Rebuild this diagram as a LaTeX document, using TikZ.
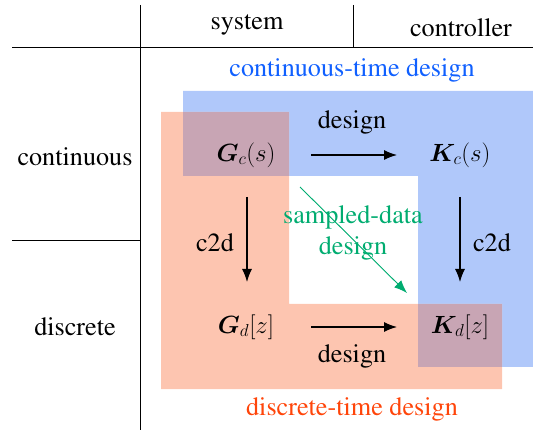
\documentclass[tikz,border=0pt]{standalone}
\usepackage{amsmath,bm}
\usepackage[T1]{fontenc}
\usepackage{times}
\usetikzlibrary{arrows.meta}
\definecolor{bluereg}{RGB}{176,200,250}
\definecolor{orangereg}{RGB}{253,197,176}
\definecolor{overlap}{RGB}{200,165,180}
\definecolor{bluetxt}{RGB}{16,96,255}
\definecolor{orangetxt}{RGB}{255,69,10}
\definecolor{greentxt}{RGB}{0,172,112}
\tikzset{
  txt/.style={font=\rmfamily\fontsize{26.2}{30}\selectfont, inner sep=0pt},
  mtxt/.style={font=\fontsize{27}{30}\selectfont, inner sep=0pt},
  arr/.style={-{Latex[length=13pt,width=10pt]}, line width=1.1pt},
  garr/.style={-{Latex[length=13pt,width=10pt]}, line width=0.9pt, draw=greentxt, fill=greentxt},
  rule/.style={line width=0.9pt}
}
\begin{document}
\begin{tikzpicture}[x=1pt,y=-1pt]
\useasboundingbox (0,0) rectangle (533,430);
% regions
\fill[bluereg] (183,91) -- (533,91) -- (533,367) -- (418,367) -- (418,176) -- (183,176) -- cycle;
\fill[orangereg] (161,112) -- (289,112) -- (289,304) -- (502,304) -- (502,389) -- (161,389) -- cycle;
\fill[overlap] (183,112) rectangle (289,176);
\fill[overlap] (418,304) rectangle (502,367);
% table rules
\draw[rule] (140,5) -- (140,430);
\draw[rule] (353,5) -- (353,47);
\draw[rule] (12,47) -- (533,47);
\draw[rule] (12,240) -- (140,240);
% headers
\node[txt] (sys) at (247,25) {system};
\node[txt] (ctl) at (461,28) {controller};
\node[txt] (cont) at (75,157) {continuous};
\node[txt] (disc) at (75,327) {discrete};
\node[txt, text=bluetxt] (ctd) at (352,70) {continuous-time design};
\node[txt, text=orangetxt] (dtd) at (352,409) {discrete-time design};
% main nodes
\node[mtxt] (Gc) at (246,155) {$\bm{G}_c(s)$};
\node[mtxt] (Kc) at (460,155) {$\bm{K}_c(s)$};
\node[mtxt] (Gd) at (246,327) {$\bm{G}_d[z]$};
\node[mtxt] (Kd) at (460,327) {$\bm{K}_d[z]$};
% arrows
\draw[arr] ([xshift=65pt]Gc.center) -- ([xshift=-63pt]Kc.center);
\draw[arr] ([xshift=65pt]Gd.center) -- ([xshift=-63pt]Kd.center);
\draw[arr] ([xshift=1pt,yshift=-42pt]Gc.center) -- ([xshift=1pt,yshift=45pt]Gd.center);
\draw[arr] ([yshift=-42pt]Kc.center) -- ([yshift=45pt]Kd.center);
\draw[garr] ([xshift=54pt,yshift=-32pt]Gc.center) -- ([xshift=-53pt,yshift=34pt]Kd.center);
% labels
\node[txt] (d1) at (352,122) {design};
\node[txt] (d2) at (352,356) {design};
\node[txt] (c1) at (215,243) {c2d};
\node[txt] (c2) at (492,243) {c2d};
\node[txt, text=greentxt, align=center, font=\rmfamily\fontsize{26.2}{31}\selectfont] (sd) at (353,233) {sampled-data\\design};
\end{tikzpicture}
\end{document}
